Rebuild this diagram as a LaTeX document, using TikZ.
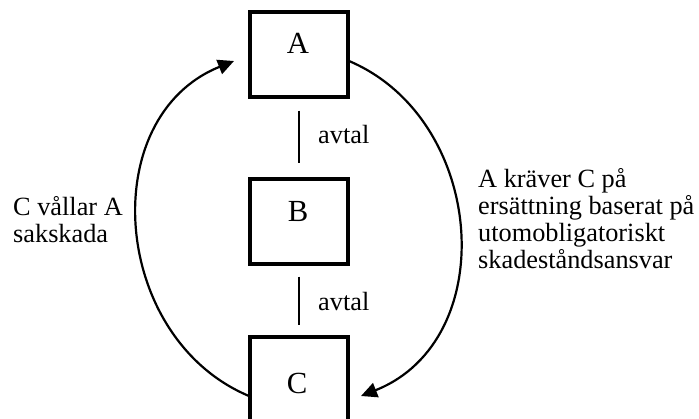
\documentclass[tikz,border=0pt]{standalone}
\usepackage{fontspec}
\setmainfont{Liberation Serif}
\usetikzlibrary{arrows.meta}
\begin{document}
\begin{tikzpicture}[x=1pt,y=-1pt,
  box/.style={draw, line width=3.2pt, minimum width=98pt, inner sep=0pt},
  lbl/.style={inner sep=0pt, font=\fontsize{26.3}{26.7}\selectfont},
  big/.style={inner sep=0pt, font=\fontsize{30.7}{32}\selectfont},
  link/.style={line width=1.4pt},
  arc/.style={line width=2.2pt, -{Triangle[length=16pt,width=15pt]}}]
\useasboundingbox (0,0) rectangle (699,418);
\clip (0,0) rectangle (699,418);
\node[box, minimum height=85pt] (A) at (299,54.5) {};
\node[box, minimum height=85pt] (B) at (299,221.5) {};
\node[box, minimum height=93pt] (C) at (299,383.5) {};
\node[big, anchor=base] (ta) at (298,53) {A};
\node[big, anchor=base] (tb) at (298,221) {B};
\node[big, anchor=base] (tc) at (297,393) {C};
\draw[link, shorten <=12pt, shorten >=14pt] (A) -- (B);
\draw[link, shorten <=11pt, shorten >=10pt] (B) -- (C);
\node[lbl, anchor=base west] (av1) at (318,143) {avtal};
\node[lbl, anchor=base west] (av2) at (318,310) {avtal};
\node[lbl, anchor=base west, align=left] (left) at (13,242) {C vållar A\\sakskada};
\node[lbl, anchor=base west, align=left] (right) at (478,268) {A kräver C på\\ersättning baserat på\\utomobligatoriskt\\skadeståndsansvar};
\coordinate (cl) at (249,396);
\coordinate (al) at (234,61);
\coordinate (ar) at (349,61);
\coordinate (cr) at (361,396);
\draw[arc] (cl) .. controls (111,338) and (95,117) .. (al);
\draw[arc] (ar) .. controls (486,119) and (502,340) .. (cr);
\end{tikzpicture}
\end{document}
